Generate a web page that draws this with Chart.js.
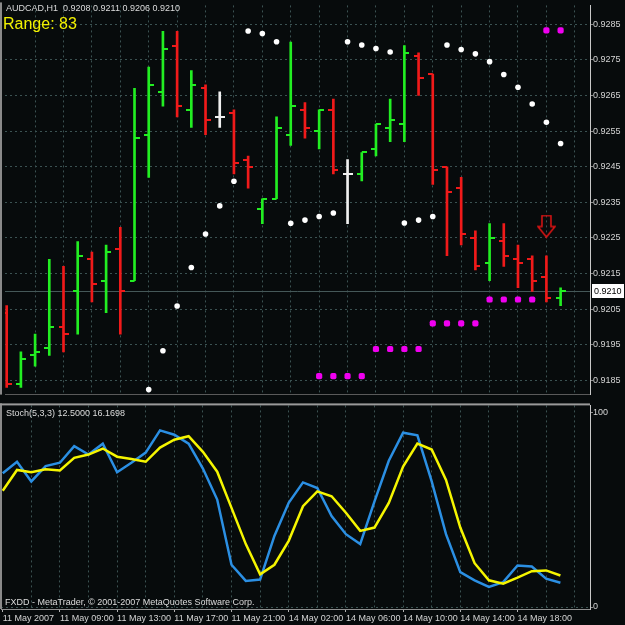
<!DOCTYPE html>
<html>
<head>
<meta charset="utf-8">
<script src="https://cdn.jsdelivr.net/npm/chart.js@4.4.1/dist/chart.umd.min.js"></script>
<style>
  html, body { margin: 0; padding: 0; background: #070b0c; }
  #wrap { position: relative; width: 625px; height: 625px; background: #070b0c; overflow: hidden; font-family: "Liberation Sans", Arial, sans-serif; }
  #priceChart { position: absolute; left: 0; top: 0; }
  #stochChart { position: absolute; left: 0; top: 400px; }
  .lbl { position: absolute; white-space: pre; color: #dcdcdc; font-size: 9px; line-height: 10px; }
  #range { color: #f2f200; font-size: 16px; line-height: 18px; left: 3px; top: 15px; }
</style>
</head>
<body>
<div id="wrap">
  <canvas id="priceChart" width="625" height="400"></canvas>
  <canvas id="stochChart" width="625" height="225"></canvas>
  <div class="lbl" style="left:6px;top:3px">AUDCAD,H1  0.9208 0.9211 0.9206 0.9210</div>
  <div class="lbl" id="range">Range: 83</div>
  <div class="lbl" style="left:6px;top:408px">Stoch(5,3,3) 12.5000 16.1698</div>
  <div class="lbl" style="left:5px;top:597px">FXDD - MetaTrader, © 2001-2007 MetaQuotes Software Corp.</div>
</div>
<script>
/* data (bar 0 = 11 May 05:00) */

const opens  = [0.9204, 0.9184, 0.9192, 0.9194, 0.9200, 0.9210, 0.9219, 0.9213, 0.9222, 0.9213,
                0.9254, 0.9266, 0.9279, 0.9261, 0.9267, 0.9259, 0.9260, 0.9247, 0.9233, 0.9236,
                0.9254, 0.9261, 0.9255, 0.9261, 0.9243, 0.9243, 0.9250, 0.9256, 0.9257, 0.9276,
                0.9271, 0.9245, 0.9239, 0.9225, 0.9218, 0.9224, 0.9219, 0.9219, 0.9214, 0.9208];
const highs  = [0.9206, 0.9193, 0.9198, 0.9219, 0.9217, 0.9224, 0.9221, 0.9223, 0.9228, 0.9267,
                0.9273, 0.9283, 0.9283, 0.9272, 0.9268, 0.9266, 0.9261, 0.9248, 0.9236, 0.9259,
                0.9280, 0.9263, 0.9261, 0.9264, 0.9247, 0.9249, 0.9257, 0.9264, 0.9279, 0.9277,
                0.9271, 0.9245, 0.9242, 0.9227, 0.9229, 0.9229, 0.9223, 0.9220, 0.9220, 0.9211];
const lows   = [0.9183, 0.9183, 0.9189, 0.9192, 0.9193, 0.9198, 0.9207, 0.9204, 0.9198, 0.9213,
                0.9242, 0.9262, 0.9259, 0.9256, 0.9254, 0.9256, 0.9243, 0.9239, 0.9229, 0.9236,
                0.9251, 0.9253, 0.9250, 0.9243, 0.9229, 0.9241, 0.9248, 0.9252, 0.9252, 0.9265,
                0.9240, 0.9220, 0.9223, 0.9216, 0.9213, 0.9217, 0.9211, 0.9210, 0.9207, 0.9206];
const closes = [0.9184, 0.9191, 0.9193, 0.9200, 0.9198, 0.9220, 0.9212, 0.9221, 0.9210, 0.9253,
                0.9268, 0.9278, 0.9262, 0.9268, 0.9258, 0.9259, 0.9246, 0.9245, 0.9236, 0.9256,
                0.9262, 0.9256, 0.9261, 0.9244, 0.9243, 0.9249, 0.9257, 0.9258, 0.9277, 0.9270,
                0.9244, 0.9238, 0.9226, 0.9217, 0.9225, 0.9220, 0.9218, 0.9213, 0.9208, 0.9210];

// parabolic SAR dots (white)
const sar = [null, null, null, null, null, null, null, null, null, null,
             0.91824, 0.91933, 0.92059, 0.92167, 0.92261, 0.92340, 0.92409, 0.92831, 0.92824, 0.92801,
             0.92291, 0.92300, 0.92310, 0.92320, 0.92801, 0.92792, 0.92782, 0.92772, 0.92292, 0.92300,
             0.92310, 0.92792, 0.92779, 0.92767, 0.92745, 0.92709, 0.92673, 0.92626, 0.92575, 0.92515];

// magenta level dots
const levels = [null, null, null, null, null, null, null, null, null, null,
                null, null, null, null, null, null, null, null, null, null,
                null, null, 0.91862, 0.91862, 0.91862, 0.91862, 0.91938, 0.91938, 0.91938, 0.91938,
                0.92010, 0.92010, 0.92010, 0.92010, 0.92077, 0.92077, 0.92077, 0.92077, 0.92833, 0.92833];

// sell arrow
const arrowBar = 38;
const arrowPrice = 0.92282;

// Stoch(5,3,3)
const stochMain   = [68.7, 74.6, 64.5, 72.4, 74.1, 82.6, 78.3, 83.9, 69.2, 74.1,
                     79.3, 90.7, 88.5, 83.9, 71.1, 55.2, 21.7, 13.4, 14.1, 36.5,
                     53.5, 64.0, 61.1, 46.7, 37.4, 32.3, 54.3, 75.1, 89.5, 88.2,
                     64.5, 37.4, 17.9, 13.7, 10.3, 12.8, 21.3, 20.8, 14.6, 12.5];
const stochSignal = [59.7, 70.4, 69.2, 70.7, 70.1, 76.6, 78.3, 81.4, 77.2, 76.0,
                     74.6, 81.9, 85.9, 87.7, 79.7, 69.5, 50.9, 32.3, 16.8, 21.7,
                     34.0, 51.8, 59.4, 56.9, 48.4, 39.1, 40.8, 53.5, 72.1, 83.9,
                     80.9, 65.3, 40.8, 22.5, 13.7, 12.0, 15.1, 18.4, 18.8, 16.17];

// axes
const priceTicks = [0.9185, 0.9195, 0.9205, 0.9215, 0.9225, 0.9235, 0.9245, 0.9255, 0.9265, 0.9275, 0.9285];
const stochTicks = [0, 100];
const timeLabels = ['11 May 2007', '11 May 09:00', '11 May 13:00', '11 May 17:00', '11 May 21:00',
                    '14 May 02:00', '14 May 06:00', '14 May 10:00', '14 May 14:00', '14 May 18:00'];
const barsPerLabel = 4;
const barsPerGrid = 2;
const lastPrice = closes[closes.length - 1];


/* look */

const GRID = '#3b5252';
const UP = '#22ee22';
const DOWN = '#f01a1a';
const FLAT = '#f0f0f0';
const FONT = { family: 'Liberation Sans', size: 9 };
const X_MIN = -0.119, X_MAX = 41.07;

function barColor(i) {
  if (closes[i] > opens[i]) return UP;
  if (closes[i] < opens[i]) return DOWN;
  return FLAT;
}

// little open / close ticks as canvas point styles
function tickImage(color, side) {
  const c = document.createElement('canvas');
  c.width = 10;
  c.height = 2;
  const g = c.getContext('2d');
  g.fillStyle = color;
  g.fillRect(side === 'open' ? 0 : 5, 0, 5, 2);
  return c;
}
const tickImgs = {};
[UP, DOWN, FLAT].forEach(function (col) {
  tickImgs[col] = { open: tickImage(col, 'open'), close: tickImage(col, 'close') };
});

// hollow down arrow
function arrowImage() {
  const c = document.createElement('canvas');
  c.width = 19;
  c.height = 24;
  const g = c.getContext('2d');
  g.strokeStyle = '#e01414';
  g.lineWidth = 1.5;
  g.beginPath();
  g.moveTo(5, 1); g.lineTo(14, 1); g.lineTo(14, 12); g.lineTo(18, 12);
  g.lineTo(9.5, 22.5); g.lineTo(1, 12); g.lineTo(5, 12); g.closePath();
  g.stroke();
  return c;
}

function gridValues() {
  const out = [];
  for (let v = barsPerGrid; v <= 40; v += barsPerGrid) out.push({ value: v });
  return out;
}

function points(arr) {
  return arr.map(function (v, i) { return { x: i, y: v }; }).filter(function (p) { return p.y !== null; });
}

// left frame line + current price line and box
const mainDecor = {
  id: 'mainDecor',
  beforeDatasetsDraw(chart) {
    const { ctx, chartArea } = chart;
    const y = Math.round(chart.scales.y.getPixelForValue(lastPrice)) + 0.5;
    ctx.save();
    ctx.strokeStyle = '#455858';
    ctx.lineWidth = 1;
    ctx.beginPath();
    ctx.moveTo(chartArea.left, y);
    ctx.lineTo(chartArea.right, y);
    ctx.stroke();
    ctx.restore();
  },
  afterDraw(chart) {
    const { ctx, chartArea } = chart;
    const y = Math.round(chart.scales.y.getPixelForValue(lastPrice));
    ctx.save();
    ctx.fillStyle = '#8a8a8a';
    ctx.fillRect(0, chartArea.top - 3, 2, chartArea.bottom - chartArea.top + 3);
    ctx.fillStyle = '#ffffff';
    ctx.fillRect(chartArea.right + 2, y - 7, 32, 14);
    ctx.fillStyle = '#000000';
    ctx.font = '9px "Liberation Sans"';
    ctx.textBaseline = 'middle';
    ctx.fillText(lastPrice.toFixed(4), chartArea.right + 4, y + 0.5);
    ctx.restore();
  }
};

const stochDecor = {
  id: 'stochDecor',
  afterDraw(chart) {
    const { ctx, chartArea } = chart;
    ctx.save();
    ctx.fillStyle = '#8a8a8a';
    ctx.fillRect(0, chartArea.top - 2, 2, chartArea.bottom - chartArea.top + 2);
    ctx.fillStyle = '#9a9a9a';
    ctx.fillRect(0, chartArea.top - 2, chartArea.right, 2);
    ctx.restore();
  }
};


/* price chart */

new Chart(document.getElementById('priceChart'), {
  type: 'scatter',
  data: {
    datasets: [
      {
        data: opens.map(function (v, i) { return { x: i, y: v }; }),
        pointStyle: function (c) { return tickImgs[barColor(c.dataIndex || 0)].open; },
        pointRadius: 1,
        order: 2
      },
      {
        data: closes.map(function (v, i) { return { x: i, y: v }; }),
        pointStyle: function (c) { return tickImgs[barColor(c.dataIndex || 0)].close; },
        pointRadius: 1,
        order: 2
      },
      {
        type: 'bar',
        data: lows.map(function (v, i) { return { x: i, y: [v, highs[i]] }; }),
        backgroundColor: opens.map(function (v, i) { return barColor(i); }),
        borderWidth: 0,
        barThickness: 2,
        grouped: false,
        order: 3
      },
      {
        data: points(sar),
        pointStyle: 'circle',
        pointRadius: 2.8,
        pointBackgroundColor: '#ffffff',
        pointBorderWidth: 0,
        order: 1
      },
      {
        data: points(levels),
        pointStyle: 'rectRounded',
        pointRadius: 3.6,
        pointBackgroundColor: '#f000f0',
        pointBorderWidth: 0,
        order: 1
      },
      {
        data: [{ x: arrowBar, y: arrowPrice }],
        pointStyle: arrowImage(),
        pointRadius: 1,
        order: 1
      }
    ]
  },
  options: {
    responsive: false,
    animation: false,
    events: [],
    layout: { padding: { left: 1, top: 3, right: 0, bottom: 2 } },
    plugins: { legend: { display: false }, tooltip: { enabled: false } },
    scales: {
      x: {
        type: 'linear',
        offset: false,
        min: X_MIN,
        max: X_MAX,
        afterBuildTicks: function (s) { s.ticks = gridValues(); },
        afterFit: function (s) { s.height = 0; },
        ticks: { display: false },
        grid: { color: GRID, drawTicks: false, offset: false },
        border: { display: true, color: '#5a5a5a', dash: [2, 3] }
      },
      y: {
        position: 'right',
        beginAtZero: false,
        min: 0.91810,
        max: 0.92903,
        afterBuildTicks: function (s) { s.ticks = priceTicks.map(function (v) { return { value: v }; }); },
        afterFit: function (s) { s.width = 35; },
        ticks: { color: '#d4d4d4', font: FONT, padding: 0, callback: function (v) { return v.toFixed(4); } },
        grid: { color: GRID, tickColor: '#8a8a8a', tickLength: 3 },
        border: { display: true, color: '#c8c8c8', dash: [2, 3] }
      }
    }
  },
  plugins: [mainDecor]
});


/* stochastic */

new Chart(document.getElementById('stochChart'), {
  type: 'line',
  data: {
    datasets: [
      {
        data: stochSignal.map(function (v, i) { return { x: i, y: v }; }),
        borderColor: '#f5f500',
        borderWidth: 2.5,
        pointRadius: 0,
        tension: 0,
        order: 0
      },
      {
        data: stochMain.map(function (v, i) { return { x: i, y: v }; }),
        borderColor: '#2b8fe3',
        borderWidth: 2.5,
        pointRadius: 0,
        tension: 0,
        order: 1
      }
    ]
  },
  options: {
    responsive: false,
    animation: false,
    events: [],
    layout: { padding: { left: 1, top: 3, right: 0, bottom: 0 } },
    plugins: { legend: { display: false }, tooltip: { enabled: false } },
    scales: {
      x: {
        type: 'linear',
        offset: false,
        min: X_MIN,
        max: X_MAX,
        afterBuildTicks: function (s) { s.ticks = [{ value: 0 }].concat(gridValues()); },
        afterFit: function (s) { s.height = 16; },
        ticks: {
          color: '#d4d4d4',
          font: FONT,
          padding: 1,
          align: 'start',
          autoSkip: false,
          maxRotation: 0,
          minRotation: 0,
          callback: function (v) { return v % barsPerLabel === 0 ? (timeLabels[v / barsPerLabel] || '') : ''; }
        },
        grid: {
          color: function (c) { return c.tick && c.tick.value === 0 ? 'transparent' : GRID; },
          tickColor: function (c) {
            return c.tick && timeLabels[c.tick.value / barsPerLabel] ? '#b0b0b0' : 'transparent';
          },
          tickLength: 3
        },
        border: { display: true, color: '#909090', dash: [2, 3] }
      },
      y: {
        position: 'right',
        min: -1.02,
        max: 103.55,
        afterBuildTicks: function (s) { s.ticks = stochTicks.map(function (v) { return { value: v }; }); },
        afterFit: function (s) { s.width = 35; },
        ticks: { color: '#d4d4d4', font: FONT, padding: 0, callback: function (v) { return String(v); } },
        grid: {
          color: function (c) { return c.tick && c.tick.value === 0 ? GRID : 'transparent'; },
          tickColor: '#8a8a8a',
          tickLength: 3
        },
        border: { display: true, color: '#c8c8c8', dash: [2, 3] }
      }
    }
  },
  plugins: [stochDecor]
});
</script>
</body>
</html>
